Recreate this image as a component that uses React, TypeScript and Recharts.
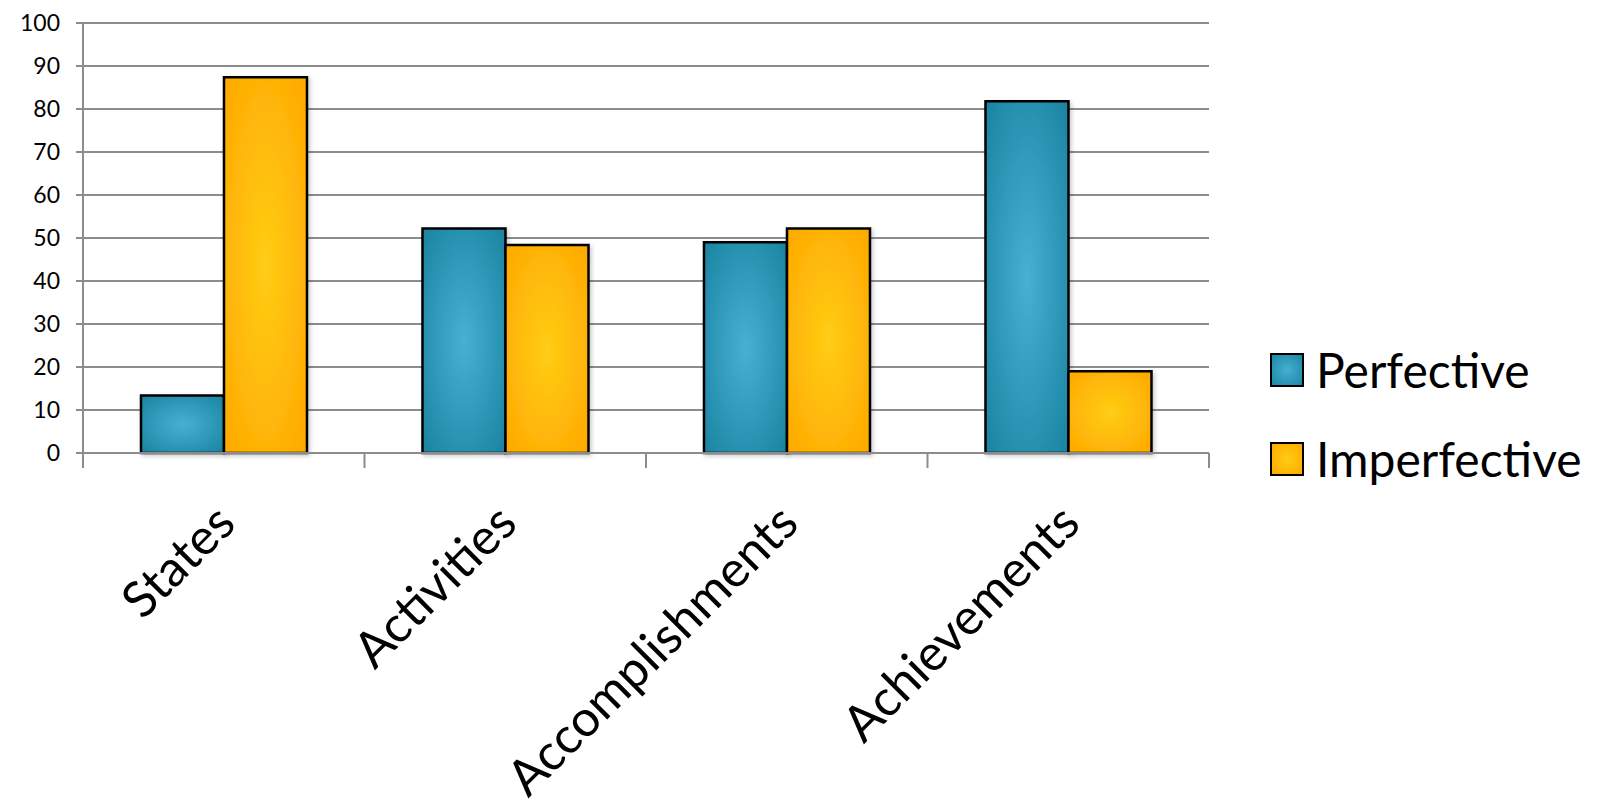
import React from 'react';
import { BarChart, Bar, XAxis, YAxis, CartesianGrid, Legend } from 'recharts';

const categories = ['States', 'Activities', 'Accomplishments', 'Achievements'];
const perfective = [13.4, 52.2, 49.0, 81.8];
const imperfective = [87.4, 48.4, 52.2, 19.0];
const yTicks = [0, 10, 20, 30, 40, 50, 60, 70, 80, 90, 100];

const FONT = 'Lato, "Open Sans", sans-serif';
const GRID = '#8c8c8c';

const data = categories.map((name, i) => ({
  name,
  Perfective: perfective[i],
  Imperfective: imperfective[i],
}));

// category label, plus the boundary tick marks between categories
const CategoryTick = (props: any) => {
  const { x, y, payload, index, visibleTicksCount } = props;
  const half = payload.offset || 0;
  const isLast = index === visibleTicksCount - 1;
  return (
    <g>
      <line x1={x - half} x2={x - half} y1={y} y2={y + 15} stroke={GRID} strokeWidth={2} />
      {isLast && <line x1={x + half} x2={x + half} y1={y} y2={y + 15} stroke={GRID} strokeWidth={2} />}
      <text
        transform={`translate(${x + 14},${y + 73}) rotate(-45)`}
        textAnchor="end"
        fontFamily={FONT}
        fontSize={50}
        fill="#000"
      >
        {payload.value}
      </text>
    </g>
  );
};

const LegendContent = () => {
  const items = [
    { name: 'Perfective', bg: 'radial-gradient(circle, #45b0d2 0%, #1d86a4 100%)' },
    { name: 'Imperfective', bg: 'radial-gradient(circle, #ffcc12 0%, #ffaa00 100%)' },
  ];
  return (
    <div>
      {items.map(it => (
        <div key={it.name} style={{ display: 'flex', alignItems: 'center', height: 88.5 }}>
          <div style={{ width: 30, height: 30, border: '2px solid #000', background: it.bg }} />
          <span style={{ marginLeft: 12, fontFamily: FONT, fontSize: 48, color: '#000', lineHeight: 1.2 }}>{it.name}</span>
        </div>
      ))}
    </div>
  );
};

export default function App() {
  return (
    <div style={{ position: 'absolute', left: 0, top: 0, width: 1602, height: 811, background: '#fff' }}>
      <BarChart
        width={1602}
        height={811}
        data={data}
        margin={{ top: 23, right: 393, left: 0, bottom: 0 }}
        barCategoryGap="20.6%"
        barGap={0}
      >
        <defs>
          <radialGradient id="gradBlue" cx="50%" cy="50%" r="70%">
            <stop offset="0%" stopColor="#46b1d3" />
            <stop offset="100%" stopColor="#1a83a1" />
          </radialGradient>
          <radialGradient id="gradOrange" cx="50%" cy="50%" r="70%">
            <stop offset="0%" stopColor="#ffcd14" />
            <stop offset="100%" stopColor="#ffa800" />
          </radialGradient>
          <filter id="barShadow" x="-10%" y="-10%" width="130%" height="130%">
            <feDropShadow dx="2" dy="2" stdDeviation="2" floodColor="#000" floodOpacity="0.2" />
          </filter>
        </defs>
        <CartesianGrid horizontal vertical={false} stroke={GRID} strokeWidth={2} />
        <YAxis
          width={83}
          domain={[0, 100]}
          ticks={yTicks}
          interval={0}
          axisLine={{ stroke: GRID, strokeWidth: 2 }}
          tickLine={{ stroke: GRID, strokeWidth: 2 }}
          tickSize={7}
          tickMargin={16}
          tick={{ fontFamily: FONT, fontSize: 23, fill: '#000' }}
        />
        <XAxis
          dataKey="name"
          height={358}
          interval={0}
          axisLine={{ stroke: GRID, strokeWidth: 2 }}
          tickLine={false}
          tickSize={0}
          tickMargin={0}
          tick={<CategoryTick />}
        />
        <Legend
          layout="vertical"
          align="center"
          verticalAlign="middle"
          wrapperStyle={{ left: 1270, top: 326, width: 330 }}
          content={<LegendContent />}
        />
        <Bar
          dataKey="Perfective"
          fill="url(#gradBlue)"
          stroke="#000"
          strokeWidth={2.5}
          filter="url(#barShadow)"
          isAnimationActive={false}
        />
        <Bar
          dataKey="Imperfective"
          fill="url(#gradOrange)"
          stroke="#000"
          strokeWidth={2.5}
          filter="url(#barShadow)"
          isAnimationActive={false}
        />
      </BarChart>
    </div>
  );
}
